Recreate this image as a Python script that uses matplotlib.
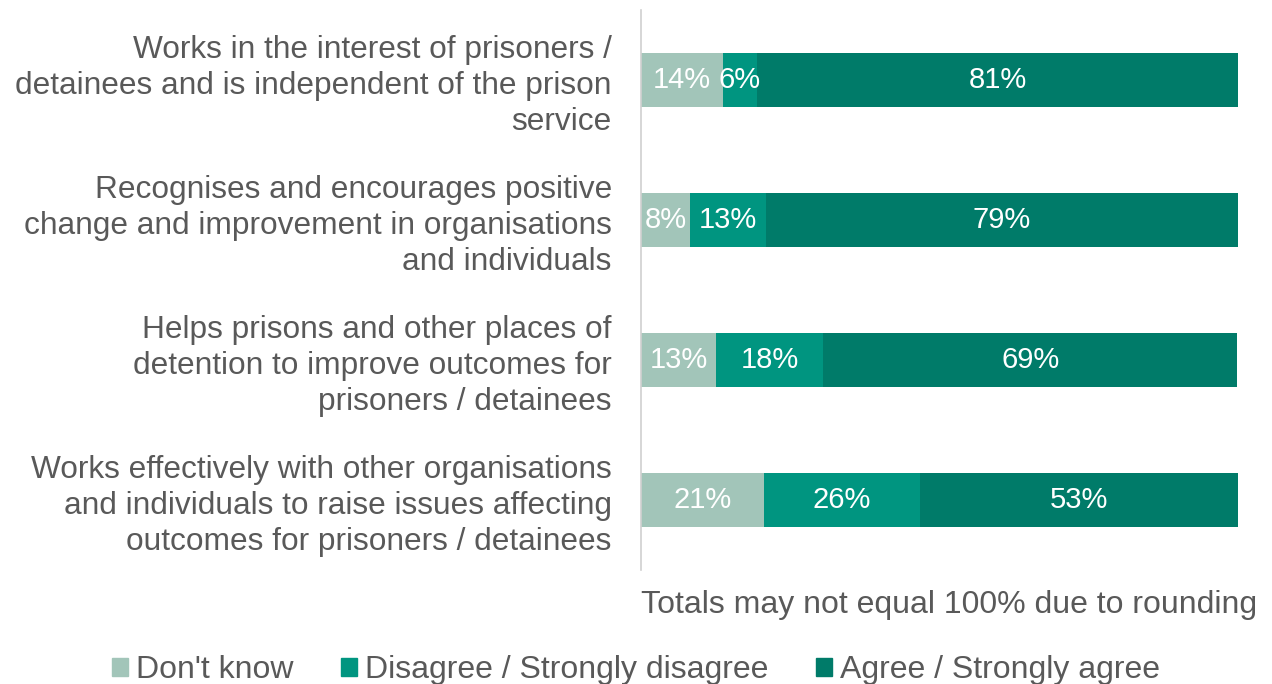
import matplotlib.pyplot as plt
from matplotlib.patches import Patch

plt.rcParams['font.family'] = ['Liberation Sans', 'DejaVu Sans']

statements = [
    'Works in the interest of prisoners /\ndetainees and is independent of the prison\nservice',
    'Recognises and encourages positive\nchange and improvement in organisations\nand individuals',
    'Helps prisons and other places of\ndetention to improve outcomes for\nprisoners / detainees',
    'Works effectively with other organisations\nand individuals to raise issues affecting\noutcomes for prisoners / detainees',
]
dont_know = [13.7, 8.2, 12.6, 20.6]
disagree = [5.7, 12.7, 17.9, 26.1]
agree = [80.6, 79.1, 69.4, 53.3]

series = ["Don't know", 'Disagree / Strongly disagree', 'Agree / Strongly agree']
colours = ['#a2c5b9', '#009580', '#007b69']
grey = '#595959'

fig = plt.figure(figsize=(12.72, 6.84), dpi=100)
ax = fig.add_axes([0.5039, 0.1667, 0.9733 - 0.5039, 0.9854 - 0.1667])

ypos = list(range(len(statements)))
left = [0] * len(statements)
for vals, col in zip([dont_know, disagree, agree], colours):
    bars = ax.barh(ypos, vals, left=left, height=0.39, color=col)
    for b, v in zip(bars, vals):
        ax.text(b.get_x() + b.get_width() / 2, b.get_y() + b.get_height() / 2,
                f'{v:.0f}%', ha='center', va='center', color='white', fontsize=21)
    left = [l + v for l, v in zip(left, vals)]

ax.set_xlim(0, 100)
ax.set_ylim(len(statements) - 0.5, -0.5)
ax.set_yticks(ypos)
ax.set_yticklabels(statements, fontsize=22.8, color=grey, linespacing=1.26)
ax.tick_params(axis='y', length=0, pad=21)
ax.set_xticks([])
for side in ['top', 'right', 'bottom']:
    ax.spines[side].set_visible(False)
ax.spines['left'].set_color('#d0d0d0')
ax.spines['left'].set_linewidth(1.2)

fig.text(641 / 1272, 1 - 605 / 684, 'Totals may not equal 100% due to rounding',
         ha='left', va='center', fontsize=23, color=grey)

handles = [Patch(color=c, label=s) for s, c in zip(series, colours)]
fig.legend(handles=handles, loc='center', bbox_to_anchor=(0.5, 1 - 670 / 684),
           ncol=3, frameon=False, fontsize=23, labelcolor=grey,
           handlelength=0.5, handleheight=0.5, handletextpad=0.25, columnspacing=1.5)

fig.savefig('out.png', dpi=100)
